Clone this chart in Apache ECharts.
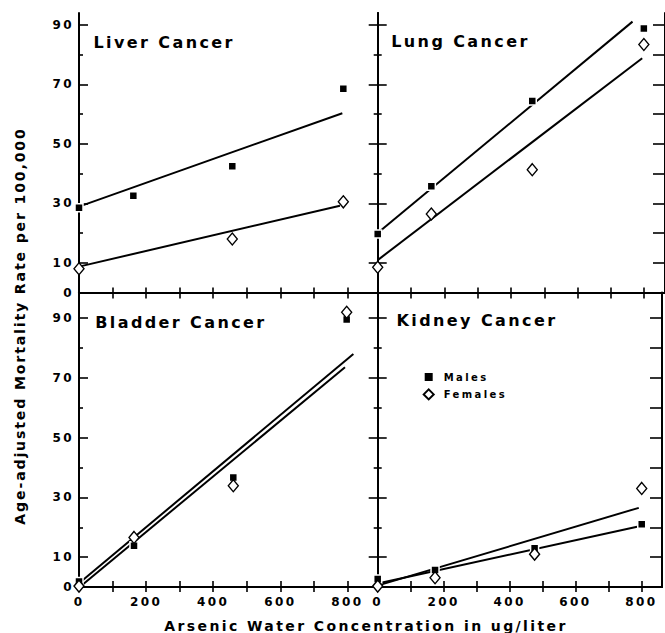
<!DOCTYPE html>
<html><head><meta charset="utf-8">
<script src="https://cdn.jsdelivr.net/npm/echarts@6/dist/echarts.min.js"></script>
<style>
html,body{margin:0;padding:0;background:#fff;}
#c{width:665px;height:633px;}
#c text{letter-spacing:2.4px;}
#c text[style*="14.1px"]{letter-spacing:1.85px;}
</style></head><body><div id="c"></div>
<script>
// ---- data ----
const xTickLabels = [0, 200, 400, 600, 800];
const yTickLabels = [0, 10, 30, 50, 70, 90];

const liverX = [0, 162, 457, 788];
const liverMales = [28.5, 32.5, 42.5, 68.5];
const liverFemales = [8, null, 18, 30.5];
const liverFitMaleX = [0, 785], liverFitMaleY = [28.9, 60.3];
const liverFitFemaleX = [0, 778], liverFitFemaleY = [8.7, 29.2];

const lungX = [0, 161, 464, 799];
const lungMales = [19.7, 35.7, 64.4, 88.8];
const lungFemales = [8.5, 26.4, 41.3, 83.4];
const lungFitMaleX = [0, 765], lungFitMaleY = [20.0, 91.1];
const lungFitFemaleX = [0, 794], lungFitFemaleY = [10.9, 78.8];

const bladderX = [0, 164, 460, 798];
const bladderMales = [1.8, 13.8, 36.7, 89.6];
const bladderFemales = [0.3, 16.6, 33.9, 92.0];
const bladderFitMaleX = [8, 818], bladderFitMaleY = [2.0, 78.0];
const bladderFitFemaleX = [13, 793], bladderFitFemaleY = [1.0, 73.6];

const kidneyX = [0, 174, 476, 801];
const kidneyMales = [2.7, 5.7, 13.0, 21.0];
const kidneyFemales = [0.3, 3.1, 11.0, 33.0];
const kidneyFitMaleX = [0, 787], kidneyFitMaleY = [1.2, 20.2];
const kidneyFitFemaleX = [7, 792], kidneyFitFemaleY = [0.7, 26.5];

const titles = ['Liver Cancer', 'Lung Cancer', 'Bladder Cancer', 'Kidney Cancer'];
const legendNames = ['Males', 'Females'];
const yTitle = 'Age-adjusted Mortality Rate per 100,000';
const xTitle = 'Arsenic Water Concentration in ug/liter';

// ---- build ----
const FONT = '"DejaVu Sans", sans-serif';
const zip = (xs, ys) => xs.map((x, i) => [x, ys[i]]).filter(p => p[1] !== null && p[1] !== undefined);

const panels = [
  {grid: {left: 79, top: 13, width: 298.7, height: 279.5}, xmax: 890.5, ymax: 94, isLeft: true, isTop: true,
   x: liverX, m: liverMales, f: liverFemales, fm: [liverFitMaleX, liverFitMaleY], ff: [liverFitFemaleX, liverFitFemaleY]},
  {grid: {left: 377.7, top: 13, width: 289.3, height: 279.5}, xmax: 862.5, ymax: 94, isLeft: false, isTop: true,
   x: lungX, m: lungMales, f: lungFemales, fm: [lungFitMaleX, lungFitMaleY], ff: [lungFitFemaleX, lungFitFemaleY]},
  {grid: {left: 79, top: 292.5, width: 298.7, height: 294.5}, xmax: 890.5, ymax: 98.6, isLeft: true, isTop: false,
   x: bladderX, m: bladderMales, f: bladderFemales, fm: [bladderFitMaleX, bladderFitMaleY], ff: [bladderFitFemaleX, bladderFitFemaleY]},
  {grid: {left: 377.7, top: 292.5, width: 289.3, height: 294.5}, xmax: 862.5, ymax: 98.6, isLeft: false, isTop: false,
   x: kidneyX, m: kidneyMales, f: kidneyFemales, fm: [kidneyFitMaleX, kidneyFitMaleY], ff: [kidneyFitFemaleX, kidneyFitFemaleY]}
];

const grids = [], xAxes = [], yAxes = [], series = [];
const axLine = {show: true, lineStyle: {color: '#000', width: 2}};
const noLine = {show: false};
const tickStyle = {color: '#000', width: 1.6};
const xTicks = [100, 200, 300, 400, 500, 600, 700, 800];
const yMajor = [10, 30, 50, 70, 90];
const yMinor = [20, 40, 60, 80];
const yAll = [10, 20, 30, 40, 50, 60, 70, 80, 90];

panels.forEach((p, gi) => {
  grids.push(Object.assign({containLabel: false}, p.grid));
  const xBase = {type: 'value', gridIndex: gi, min: 0, max: p.xmax, interval: 100, splitLine: {show: false}};
  const mainX = xAxes.length;
  xAxes.push(Object.assign({}, xBase, {
    position: 'bottom', axisLine: axLine,
    axisTick: {show: true, inside: true, length: p.isTop ? 5 : 6, customValues: xTicks, lineStyle: tickStyle},
    axisLabel: {show: !p.isTop, margin: 9, color: '#000', fontFamily: FONT, fontWeight: 'bold', fontSize: 12,
      formatter: v => xTickLabels.indexOf(v) >= 0 ? String(v) : ''}
  }));
  xAxes.push(Object.assign({}, xBase, {
    position: 'top', axisLine: axLine,
    axisTick: {show: true, inside: true, length: p.isTop ? 6 : 5, customValues: xTicks, lineStyle: tickStyle},
    axisLabel: {show: false}
  }));
  const yBase = {type: 'value', gridIndex: gi, min: 0, max: p.ymax, interval: 10, splitLine: {show: false}};
  const mainY = yAxes.length;
  yAxes.push(Object.assign({}, yBase, {
    position: 'left', axisLine: axLine,
    axisTick: {show: true, inside: true, length: 9, customValues: yMajor, lineStyle: tickStyle},
    axisLabel: {show: p.isLeft, margin: 5, color: '#000', fontFamily: FONT, fontWeight: 'bold', fontSize: 12,
      formatter: v => yTickLabels.indexOf(v) >= 0 ? String(v) : ''}
  }));
  yAxes.push(Object.assign({}, yBase, {
    position: 'left', axisLine: noLine,
    axisTick: {show: true, inside: true, length: 4, customValues: yMinor, lineStyle: tickStyle},
    axisLabel: {show: false}
  }));
  if (p.isLeft) {
    yAxes.push(Object.assign({}, yBase, {
      position: 'right', axisLine: axLine,
      axisTick: {show: true, inside: true, length: 9, customValues: yMajor, lineStyle: tickStyle},
      axisLabel: {show: false}
    }));
    yAxes.push(Object.assign({}, yBase, {
      position: 'right', axisLine: noLine,
      axisTick: {show: true, inside: true, length: 4, customValues: yMinor, lineStyle: tickStyle},
      axisLabel: {show: false}
    }));
  } else {
    yAxes.push(Object.assign({}, yBase, {
      position: 'right', axisLine: axLine,
      axisTick: {show: true, inside: true, length: 12, customValues: yAll, lineStyle: tickStyle},
      axisLabel: {show: false}
    }));
  }
  const common = {xAxisIndex: mainX, yAxisIndex: mainY, silent: true, animation: false};
  const lineStyle = {color: '#000', width: 2};
  series.push(Object.assign({type: 'line', name: 'fit m' + gi, data: zip(p.fm[0], p.fm[1]), symbol: 'none', lineStyle, z: 2, clip: false}, common));
  series.push(Object.assign({type: 'line', name: 'fit f' + gi, data: zip(p.ff[0], p.ff[1]), symbol: 'none', lineStyle, z: 2, clip: false}, common));
  series.push(Object.assign({type: 'scatter', name: gi === 3 ? legendNames[0] : 'm' + gi, data: zip(p.x, p.m),
    symbol: 'rect', symbolSize: 8, clip: false, z: 3,
    itemStyle: {color: '#000', borderColor: '#fff', borderWidth: 1.5, opacity: 1}}, common));
  series.push(Object.assign({type: 'scatter', name: gi === 3 ? legendNames[1] : 'f' + gi, data: zip(p.x, p.f),
    symbol: 'diamond', symbolSize: [10, 12], clip: false, z: 4,
    itemStyle: {color: '#fff', borderColor: '#000', borderWidth: 1.4, opacity: 1}}, common));
});

const titlePos = [[93.5, 42.5], [391.2, 41.5], [95.2, 322.7], [396.5, 320]];
const graphics = titles.map((t, i) => ({
  type: 'text', x: titlePos[i][0], y: titlePos[i][1], silent: true,
  style: {text: t, fill: '#000', font: 'bold 16px ' + FONT, textAlign: 'left', textVerticalAlign: 'middle'}
}));
graphics.push({type: 'text', x: 19.7, y: 326, rotation: Math.PI / 2, silent: true,
  style: {text: yTitle, fill: '#000', font: 'bold 14.1px ' + FONT, textAlign: 'center', textVerticalAlign: 'middle'}});
graphics.push({type: 'text', x: 366, y: 625.5, silent: true,
  style: {text: xTitle, fill: '#000', font: 'bold 14px ' + FONT, textAlign: 'center', textVerticalAlign: 'middle'}});

const chart = echarts.init(document.getElementById('c'), null, {renderer: 'svg', width: 665, height: 633});
chart.setOption({
  animation: false,
  backgroundColor: '#fff',
  grid: grids,
  xAxis: xAxes,
  yAxis: yAxes,
  series: series,
  legend: {
    data: legendNames, orient: 'vertical', left: 417.7, top: 366,
    itemWidth: 10, itemHeight: 10, itemGap: 5.4, selectedMode: false,
    textStyle: {color: '#000', fontFamily: FONT, fontWeight: 'bold', fontSize: 10, lineHeight: 10, padding: [0, 0, 0, 5]}
  },
  graphic: graphics
});
</script></body></html>
